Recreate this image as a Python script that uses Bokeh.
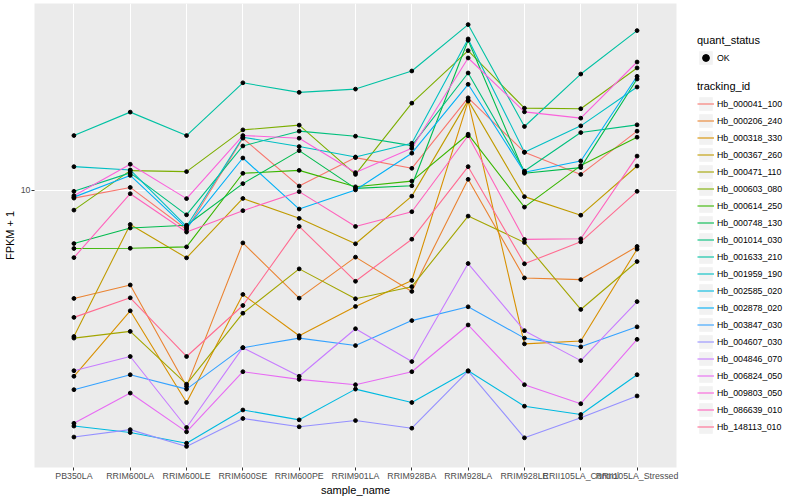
import numpy as np
from bokeh.plotting import figure
from bokeh.layouts import row
from bokeh.models import FactorRange, Range1d, FixedTicker, Legend, LegendItem
from bokeh.embed import file_html
from bokeh.resources import INLINE

sample_names = ["PB350LA", "RRIM600LA", "RRIM600LE", "RRIM600SE", "RRIM600PE",
                "RRIM901LA", "RRIM928BA", "RRIM928LA", "RRIM928LE",
                "RRII105LA_Control", "RRII105LA_Stressed"]

tracking_ids = ["Hb_000041_100", "Hb_000206_240", "Hb_000318_330", "Hb_000367_260",
                "Hb_000471_110", "Hb_000603_080", "Hb_000614_250", "Hb_000748_130",
                "Hb_001014_030", "Hb_001633_210", "Hb_001959_190", "Hb_002585_020",
                "Hb_002878_020", "Hb_003847_030", "Hb_004607_030", "Hb_004846_070",
                "Hb_006824_050", "Hb_009803_050", "Hb_086639_010", "Hb_148113_010"]

hb_000041_100 = [9.50, 10.17, 7.78, 13.92, 10.26, 12.30, 11.49, 18.01, 12.73, 11.05, 14.56]
hb_000206_240 = [5.01, 5.46, 2.86, 7.14, 5.02, 6.52, 5.24, 10.71, 5.71, 5.65, 6.98]
hb_000318_330 = [3.05, 4.63, 2.58, 5.14, 3.95, 4.76, 5.62, 17.64, 3.75, 3.82, 6.86]
hb_000367_260 = [3.93, 8.03, 6.49, 9.48, 8.35, 7.10, 9.62, 17.72, 9.59, 8.52, 11.66]
hb_000471_110 = [3.89, 4.06, 2.90, 4.56, 6.05, 5.00, 5.40, 8.47, 7.16, 4.67, 6.34]
hb_000603_080 = [8.80, 11.32, 11.25, 14.68, 15.13, 11.05, 17.41, 24.33, 16.86, 16.80, 21.79]
hb_000614_250 = [6.89, 6.90, 6.96, 11.13, 11.34, 10.21, 10.59, 14.28, 8.97, 11.69, 14.01]
hb_000748_130 = [7.11, 7.85, 7.99, 10.42, 12.86, 10.11, 10.28, 26.00, 11.13, 11.54, 20.30]
hb_001014_030 = [9.92, 11.16, 8.54, 13.25, 14.56, 14.10, 13.28, 21.10, 11.29, 14.43, 15.16]
hb_001633_210 = [14.16, 16.44, 14.16, 19.82, 18.65, 19.04, 21.37, 28.73, 15.00, 20.96, 27.65]
hb_001959_190 = [11.61, 11.37, 7.93, 14.01, 13.20, 12.35, 13.48, 26.22, 12.73, 15.06, 19.29]
hb_002585_020 = [2.22, 2.13, 1.99, 2.46, 2.31, 2.81, 2.58, 3.16, 2.52, 2.39, 3.08]
hb_002878_020 = [9.56, 10.98, 7.85, 12.27, 8.86, 10.01, 12.65, 19.63, 11.20, 12.04, 20.66]
hb_003847_030 = [2.80, 3.08, 2.81, 3.66, 3.89, 3.71, 4.35, 4.75, 3.89, 3.68, 4.18]
hb_004607_030 = [2.07, 2.17, 1.95, 2.33, 2.21, 2.30, 2.19, 3.15, 2.06, 2.34, 2.69]
hb_004846_070 = [3.16, 3.46, 2.20, 3.66, 3.05, 4.13, 3.35, 6.26, 4.08, 3.37, 4.91]
hb_006824_050 = [2.26, 2.74, 2.14, 3.14, 2.99, 2.89, 3.14, 4.23, 2.89, 2.56, 3.86]
hb_009803_050 = [9.65, 11.79, 9.47, 14.16, 13.92, 11.18, 13.05, 23.22, 16.47, 15.82, 22.63]
hb_086639_010 = [6.50, 9.77, 7.65, 8.77, 9.90, 7.93, 8.71, 14.14, 7.30, 7.33, 12.42]
hb_148113_010 = [4.44, 5.03, 3.46, 4.79, 7.93, 5.59, 7.31, 11.61, 6.25, 7.19, 9.92]

series_values = [hb_000041_100, hb_000206_240, hb_000318_330, hb_000367_260,
                 hb_000471_110, hb_000603_080, hb_000614_250, hb_000748_130,
                 hb_001014_030, hb_001633_210, hb_001959_190, hb_002585_020,
                 hb_002878_020, hb_003847_030, hb_004607_030, hb_004846_070,
                 hb_006824_050, hb_009803_050, hb_086639_010, hb_148113_010]

colors = ["#F8766D", "#EA8331", "#D89000", "#C09B00", "#A3A500", "#7CAE00",
          "#39B600", "#00BB4E", "#00BF7D", "#00C1A3", "#00BFC4", "#00BAE0",
          "#00B0F6", "#35A2FF", "#9590FF", "#C77CFF", "#E76BF3", "#FA62DB",
          "#FF62BC", "#FF6C91"]

FONT = "Liberation Sans"
H = 498

all_vals = np.log10(np.concatenate([np.array(v) for v in series_values]))
lo, hi = all_vals.min(), all_vals.max()
pad = (hi - lo) * 0.05
y_range = Range1d(10 ** (lo - pad), 10 ** (hi + pad))

p = figure(width=684, height=H,
           x_range=FactorRange(factors=sample_names, range_padding=0.2,
                               range_padding_units="absolute"),
           y_range=y_range, y_axis_type="log",
           output_backend="svg", toolbar_location=None,
           min_border_left=27, min_border_right=8,
           min_border_top=3, min_border_bottom=0)

p.background_fill_color = "#EBEBEB"
p.border_fill_color = "white"
p.outline_line_color = None

p.xaxis.axis_label = "sample_name"
p.yaxis.axis_label = "FPKM + 1"
for ax in (p.xaxis, p.yaxis):
    ax.axis_label_text_font = FONT
    ax.axis_label_text_font_size = "11px"
    ax.axis_label_text_font_style = "normal"
    ax.axis_label_text_color = "black"
    ax.axis_label_standoff = 2
    ax.major_label_text_font = FONT
    ax.major_label_text_font_size = "8.8px"
    ax.major_label_text_color = "#4D4D4D"
    ax.major_label_standoff = 1
    ax.axis_line_color = None
    ax.major_tick_line_color = "#333333"
    ax.major_tick_out = 3
    ax.major_tick_in = 0
    ax.minor_tick_line_color = None
p.xaxis.axis_label_standoff = 0
p.xaxis.major_label_standoff = 0

p.yaxis.ticker = FixedTicker(ticks=[10], minor_ticks=[])
p.yaxis.major_label_overrides = {10: "10"}

p.xgrid.grid_line_color = "white"
p.xgrid.grid_line_width = 1.1
p.ygrid.ticker = FixedTicker(ticks=[10], minor_ticks=[])
p.ygrid.grid_line_color = "white"
p.ygrid.grid_line_width = 1.1
p.ygrid.minor_grid_line_color = None

for vals, col in zip(series_values, colors):
    p.line(x=sample_names, y=vals, line_color=col, line_width=1.1)

for vals in series_values:
    p.scatter(x=sample_names, y=vals, size=3.8, marker="circle",
              fill_color="black", line_color="black")

# ---- legend panel (separate figure so legends are not clipped) ----
lf = figure(width=100, height=H, x_range=Range1d(0, 1), y_range=Range1d(0, 1),
            x_axis_location=None, y_axis_location=None,
            output_backend="svg", toolbar_location=None,
            min_border_left=0, min_border_right=0, min_border_top=0, min_border_bottom=0)
lf.grid.visible = False
lf.outline_line_color = None
lf.background_fill_color = "white"
lf.border_fill_color = "white"

bg = lf.rect(x=[0.5], y=[-5], width=0.1, height=0.1, fill_color="#F2F2F2", line_color=None)
ok_proxy = lf.scatter(x=[0.5], y=[-5], size=3.6, marker="circle",
                      fill_color="black", line_color="black")
line_proxies = [lf.line(x=[0, 1], y=[-5, -5], line_color=c, line_width=1.1) for c in colors]

def style_legend(lg):
    lg.title_text_font = FONT
    lg.title_text_font_size = "11px"
    lg.title_text_font_style = "normal"
    lg.title_text_color = "black"
    lg.title_standoff = 3
    lg.label_text_font = FONT
    lg.label_text_font_size = "8.8px"
    lg.label_text_color = "black"
    lg.label_standoff = 3
    lg.label_height = 17
    lg.glyph_width = 17
    lg.glyph_height = 17
    lg.spacing = 0
    lg.padding = 0
    lg.margin = 0
    lg.border_line_color = None
    lg.background_fill_alpha = 0

quant_legend = Legend(items=[LegendItem(label="OK", renderers=[bg, ok_proxy])],
                      title="quant_status", location=(13, 387 + (H - 484)))
style_legend(quant_legend)

track_legend = Legend(items=[LegendItem(label=t, renderers=[bg, r])
                             for t, r in zip(tracking_ids, line_proxies)],
                      title="tracking_id", location=(13, 18 + (H - 484)))
style_legend(track_legend)

lf.add_layout(quant_legend, "center")
lf.add_layout(track_legend, "center")

layout = row(p, lf)
open("out.html", "w").write(file_html(layout, INLINE))
